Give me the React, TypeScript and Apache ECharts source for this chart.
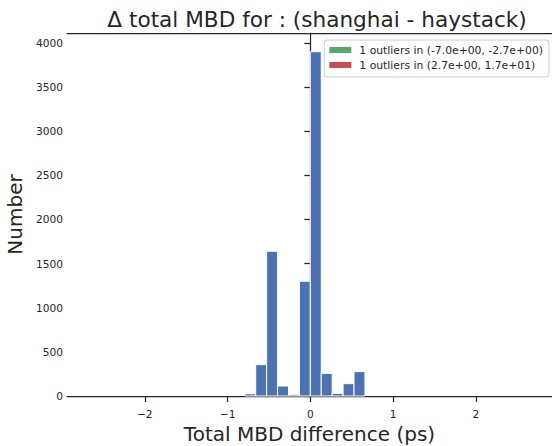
import React, { useEffect, useRef } from "react";
import * as echarts from "echarts";

// Histogram bin edges (ps) and counts per bin
const binEdges = [-0.792, -0.66, -0.528, -0.396, -0.264, -0.132, 0.0, 0.132, 0.264, 0.396, 0.528, 0.66];
const binCounts = [25, 355, 1640, 113, 15, 1300, 3900, 257, 30, 140, 276];

const xTicks = [-2, -1, 0, 1, 2];
const yTicks = [0, 500, 1000, 1500, 2000, 2500, 3000, 3500, 4000];

const outlierLabels = [
  "1 outliers in (-7.0e+00, -2.7e+00)",
  "1 outliers in (2.7e+00, 1.7e+01)",
];
const outlierColors = ["#55A868", "#C44E52"];

const barColor = "#4C72B0";
const ink = "#262626";
const font = "DejaVu Sans";
const xMin = -2.94;
const xMax = 2.92;

export default function App() {
  const ref = useRef<HTMLDivElement>(null);

  useEffect(() => {
    if (!ref.current) return;
    const chart = echarts.init(ref.current, undefined, { renderer: "svg" });

    const histData = binCounts.map((c, i) => [binEdges[i], binEdges[i + 1], c]);

    chart.setOption({
      animation: false,
      backgroundColor: "#ffffff",
      textStyle: { fontFamily: font },
      title: {
        text: "Δ total MBD for : (shanghai - haystack)",
        left: 312,
        textAlign: "center",
        top: 3,
        textStyle: { fontFamily: font, fontSize: 21.6, fontWeight: "normal", color: ink },
      },
      grid: {
        left: 67,
        top: 33,
        width: 485,
        height: 363,
        show: false,
        containLabel: false,
        outerBoundsMode: "none",
      },
      legend: {
        right: 3,
        top: 40,
        orient: "vertical",
        icon: "rect",
        itemWidth: 22,
        itemHeight: 6,
        itemGap: 3,
        padding: [4, 6, 6, 5],
        backgroundColor: "#ffffff",
        borderColor: "#cccccc",
        borderWidth: 1,
        borderRadius: 3,
        selectedMode: false,
        textStyle: { fontFamily: font, fontSize: 10.8, color: ink, lineHeight: 12, padding: [0, 0, 0, 3] },
        data: outlierLabels.map((name, i) => ({ name, itemStyle: { color: outlierColors[i] } })),
      },
      xAxis: [
        {
          type: "value",
          min: xMin,
          max: xMax,
          name: "Total MBD difference (ps)",
          nameLocation: "middle",
          nameGap: 24,
          nameTextStyle: { fontFamily: font, fontSize: 20, color: ink },
          axisLine: { show: true, onZero: false, lineStyle: { color: ink, width: 1.25 } },
          axisTick: {
            show: true,
            length: 6,
            lineStyle: { color: ink, width: 1.25 },
            customValues: xTicks,
          },
          axisLabel: {
            fontFamily: font,
            fontSize: 10.6,
            color: ink,
            margin: 12,
            customValues: xTicks,
            formatter: (v: number) => (v < 0 ? "\u2212" + Math.abs(v) : String(v)),
          },
          splitLine: { show: false },
        },
        {
          // top spine
          type: "value",
          position: "top",
          min: xMin,
          max: xMax,
          axisLine: { show: true, onZero: false, lineStyle: { color: ink, width: 1.25 } },
          axisTick: { show: false },
          axisLabel: { show: false },
          splitLine: { show: false },
        },
      ],
      yAxis: {
        type: "value",
        min: 0,
        max: 4112,
        name: "Number",
        nameLocation: "middle",
        nameGap: 42,
        nameTextStyle: { fontFamily: font, fontSize: 20, color: ink },
        axisLine: { show: true, lineStyle: { color: ink, width: 1.25 } },
        axisTick: {
          show: true,
          length: 6,
          lineStyle: { color: ink, width: 1.25 },
          customValues: yTicks,
        },
        axisLabel: {
          fontFamily: font,
          fontSize: 10.6,
          color: ink,
          margin: 4,
          customValues: yTicks,
          formatter: (v: number) => String(v),
        },
        splitLine: { show: false },
      },
      series: [
        {
          type: "custom",
          name: "counts",
          data: histData,
          encode: { x: [0, 1], y: 2 },
          renderItem: (params: any, api: any) => {
            const x0 = api.value(0);
            const x1 = api.value(1);
            const h = api.value(2);
            const p0 = api.coord([x0, h]);
            const p1 = api.coord([x1, 0]);
            return {
              type: "rect",
              shape: { x: p0[0], y: p0[1], width: p1[0] - p0[0], height: p1[1] - p0[1] },
              style: { fill: barColor, stroke: "#ffffff", lineWidth: 1 },
            };
          },
        },
        ...outlierLabels.map((name, i) => ({
          type: "custom",
          name,
          data: [],
          itemStyle: { color: outlierColors[i] },
          renderItem: () => null,
        })),
      ],
    });

    return () => chart.dispose();
  }, []);

  return (
    <div
      ref={ref}
      style={{ position: "fixed", left: 0, top: 0, width: 552, height: 446 }}
    />
  );
}
